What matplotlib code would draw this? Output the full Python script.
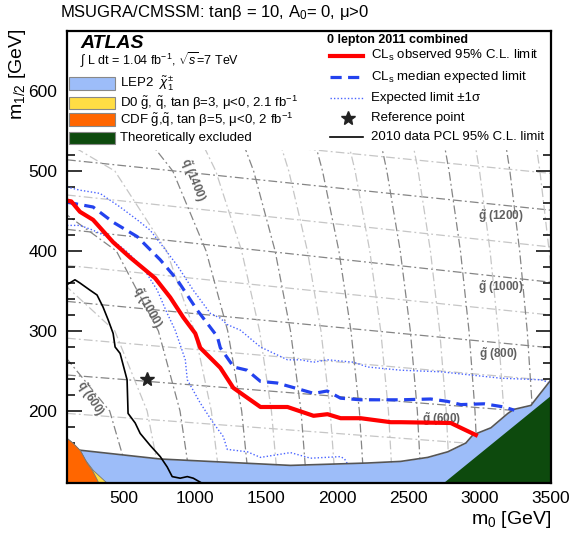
import numpy as np
import matplotlib
matplotlib.use('Agg')
import matplotlib.pyplot as plt
from matplotlib.patches import Rectangle
from matplotlib.ticker import MultipleLocator

plt.rcParams['font.family'] = ['Liberation Sans', 'DejaVu Sans']
plt.rcParams['mathtext.fontset'] = 'custom'
plt.rcParams['mathtext.rm'] = 'Liberation Sans'
plt.rcParams['mathtext.it'] = 'Liberation Sans:italic'
plt.rcParams['mathtext.bf'] = 'Liberation Sans:bold'

nan = np.nan

# 0 lepton 2011, CLs observed limit
obs_m0 = [100, 130, 191, 283, 424, 543, 719, 825, 917, 1001, 1036, 1177, 1268, 1339,
          1459, 1649, 1832, 1930, 2022, 2162, 2374, 2444, 2796, 2866, 2972]
obs_m12 = [463, 462, 449, 439, 411, 392, 366, 342, 317, 297, 279, 254, 229, 220,
           205, 205, 194, 196, 191, 191, 186, 186, 185, 179, 170]

# median expected
exp_m0 = [100, 283, 424, 593, 755, 874, 1015, 1156, 1177, 1271, 1365, 1459, 1576,
          1717, 1834, 1928, 2022, 2162, 2444, 2655, 2773, 2866, 3030, 3171, 3242]
exp_m12 = [461, 455, 436, 418, 389, 364, 326, 293, 279, 255, 251, 237, 235,
           228, 222, 225, 216, 214, 214, 215, 212, 208, 209, 205, 201]

# expected +-1 sigma
up_m0 = [100, 191, 332, 473, 593, 684, 776, 874, 987, 1107, 1177, 1226, 1318, 1459,
         1649, 1740, 1832, 1930, 2113, 2212, 2444, 2725, 3148, 3430, 3480]
up_m12 = [480, 476, 472, 455, 439, 426, 405, 382, 351, 322, 316, 308, 301, 280,
          264, 264, 261, 264, 261, 255, 251, 249, 241, 239, 236]
dn_m0 = [100, 191, 283, 403, 522, 635, 734, 804, 860, 931, 945, 1036, 1128, 1198,
         1226, 1367, 1459, 1670, 1811, 2022, 2050, 2100]
dn_m12 = [432, 432, 426, 416, 399, 379, 351, 322, 301, 264, 239, 210, 185, 168,
          152, 149, 142, 148, 141, 143, 140, 125]

# 2010 PCL limit
pcl_m0 = [100, 156, 191, 262, 311, 353, 389, 424, 438, 473, 522, 529, 579, 614,
          684, 755, 804, 839, 895, 945, 987, 1036]
pcl_m12 = [358, 364, 360, 351, 345, 330, 314, 297, 280, 272, 239, 197, 185, 172,
           157, 143, 130, 118, 116, 118, 116, 111]

ref_m0, ref_m12 = 660, 240

# excluded regions (upper edges)
lep_m0 = [100, 191, 755, 1670, 2212, 2444, 2634, 2775, 2902, 2951, 3078, 3197,
          3239, 3359, 3416, 3500]
lep_m12 = [155, 151, 140, 132, 135, 137, 142, 149, 160, 170, 179, 197,
           202, 207, 220, 239]
d0_m0 = [100, 135, 191, 227, 283, 381]
d0_m12 = [166, 161, 151, 139, 126, 110]
cdf_m0 = [100, 135, 191, 240, 276, 311, 320]
cdf_m12 = [166, 161, 151, 135, 126, 114, 110]
theo_m0 = [2740, 3500]
theo_m12 = [110, 220]

# gluino mass contours (m1/2 at m0 = 100 and 3500)
gluino_mass = [500, 600, 700, 800, 900, 1000, 1100, 1200, 1300, 1400, 1500]
gluino_left = [197, 245, 291, 337, 382, 427, 470, 514, 557, 600, 643]
gluino_right = [152, 197, 238, 279, 320, 361, 405, 451, 497, 543, 589]

# squark mass contours (m0 at fixed m1/2 levels)
squark_levels = [110, 200, 300, 400, 500, 600, 680]
squark_mass = [600, 800, 1000, 1200, 1400, 1600, 1800, 2000, 2200, 2400, 2600,
               2800, 3000, 3200, 3400, 3600]
squark_m0 = [
    [547, 400, -61, nan, nan, nan, nan],
    [761, 663, 436, -175, nan, nan, nan],
    [969, 894, 742, 447, -324, nan, nan],
    [1175, 1114, 995, 800, 436, -524, nan],
    [1378, 1327, 1229, 1077, 843, 400, -600],
    [1581, 1536, 1453, 1327, 1145, 872, 498],
    [1783, 1744, 1670, 1562, 1411, 1200, 963],
    [1985, 1949, 1884, 1789, 1658, 1483, 1299],
    [2186, 2154, 2095, 2010, 1895, 1744, 1590],
    [2387, 2358, 2304, 2227, 2124, 1990, 1857],
    [2588, 2561, 2512, 2441, 2347, 2227, 2109],
    [2789, 2764, 2718, 2653, 2567, 2458, 2351],
    [2990, 2966, 2924, 2864, 2784, 2683, 2586],
    [3191, 3169, 3129, 3072, 2998, 2905, 2816],
    [3391, 3370, 3333, 3280, 3211, 3124, 3041],
    [3592, 3572, 3537, 3487, 3422, 3341, 3263],
]

fig = plt.figure(figsize=(5.7, 5.35), dpi=100)
ax = fig.add_axes([67 / 570, 52 / 535, 484 / 570, 452 / 535])
ax.set_xlim(100, 3500)
ax.set_ylim(110, 675)

DARK = '#858585'
LIGHT = '#c6c6c6'
DASHDOT = (0, (7, 2.5, 1.5, 2.5))

for i, m in enumerate(gluino_mass):
    col = DARK if m % 200 == 0 else LIGHT
    ax.plot([100, 3500], [gluino_left[i], gluino_right[i]], color=col, lw=0.9,
            linestyle=DASHDOT, zorder=1)
for i, m in enumerate(squark_mass):
    col = DARK if m % 400 == 200 else LIGHT
    ax.plot(squark_m0[i], squark_levels, color=col, lw=0.9, linestyle=DASHDOT,
            zorder=1)

grey_txt = '#606060'
ax.text(3148, 444, r'$\mathbf{\tilde{g}}$ (1200)', color=grey_txt, fontsize=8.5,
        fontweight='bold', ha='center', va='center', zorder=1.5)
ax.text(3148, 355, r'$\mathbf{\tilde{g}}$ (1000)', color=grey_txt, fontsize=8.5,
        fontweight='bold', ha='center', va='center', zorder=1.5)
ax.text(3130, 271, r'$\mathbf{\tilde{g}}$ (800)', color=grey_txt, fontsize=8.5,
        fontweight='bold', ha='center', va='center', zorder=1.5)
ax.text(2733, 190, r'$\mathbf{\tilde{g}}$ (600)', color=grey_txt, fontsize=8.5,
        fontweight='bold', ha='center', va='center', zorder=1.5)
ax.text(987, 489, r'$\mathbf{\tilde{q}}$ (1400)', color=grey_txt, fontsize=8.5,
        fontweight='bold', ha='center', va='center', rotation=-68, zorder=1.5)
ax.text(663, 329, r'$\mathbf{\tilde{q}}$ (1000)', color=grey_txt, fontsize=8.5,
        fontweight='bold', ha='center', va='center', rotation=-60, zorder=1.5)
ax.text(262, 216, r'$\mathbf{\tilde{q}}$ (600)', color=grey_txt, fontsize=8.5,
        fontweight='bold', ha='center', va='center', rotation=-57, zorder=1.5)

LEP_C = '#9dbdf9'
D0_C = '#ffdd44'
CDF_C = '#ff6600'
THEO_C = '#0d4a0d'

ax.plot(dn_m0, dn_m12, color='#4a64ff', lw=1.0, linestyle=(0, (1, 1.5)), zorder=1.9)
ax.fill_between(lep_m0, lep_m12, 110, color=LEP_C, lw=0, zorder=2)
ax.plot(lep_m0, lep_m12, color='#555555', lw=1.2, zorder=2.1)
ax.fill_between(d0_m0, d0_m12, 110, facecolor=D0_C, edgecolor='#777777', lw=0.6,
                zorder=2.2)
ax.fill_between(cdf_m0, cdf_m12, 110, facecolor=CDF_C, edgecolor='#777777', lw=0.6,
                zorder=2.3)
ax.fill_between(theo_m0, theo_m12, 110, color=THEO_C, lw=0, zorder=2.4)

ax.plot(up_m0, up_m12, color='#4a64ff', lw=1.0, linestyle=(0, (1, 1.5)), zorder=3)
ax.plot(exp_m0, exp_m12, color='#2342ee', lw=2.3, linestyle=(0, (3.5, 2)), zorder=3.1)
ax.plot(obs_m0, obs_m12, color='#ff0000', lw=3, zorder=3.2, solid_joinstyle='round')
ax.plot(pcl_m0, pcl_m12, color='black', lw=1.2, zorder=3.3)
ax.plot(ref_m0, ref_m12, marker='*', ms=10, color='#222222', zorder=3.4)

# legend box
ax.add_patch(Rectangle((0, 0.737), 1, 0.263, transform=ax.transAxes,
                       facecolor='white', edgecolor='none', zorder=4))
T = ax.transAxes
ax.text(0.027, 0.973, 'ATLAS', transform=T, fontsize=14, fontweight='bold',
        style='italic', va='center', ha='left', zorder=5)
ax.text(0.027, 0.936, r'$\int$ L dt = 1.04 fb$^{-1}$, $\sqrt{s}$=7 TeV', transform=T,
        fontsize=9, va='center', ha='left', zorder=5)
left_items = [
    (LEP_C, r'LEP2  $\tilde{\chi}^{\pm}_{1}$'),
    (D0_C, r'D0 $\tilde{\mathrm{g}}$, $\tilde{\mathrm{q}}$, tan β=3, μ<0, 2.1 fb$^{-1}$'),
    (CDF_C, r'CDF $\tilde{\mathrm{g}}$,$\tilde{\mathrm{q}}$, tan β=5, μ<0, 2 fb$^{-1}$'),
    (THEO_C, 'Theoretically excluded'),
]
left_y = [0.884, 0.841, 0.804, 0.763]
for (col, lab), fy in zip(left_items, left_y):
    ax.add_patch(Rectangle((0.004, fy - 0.014), 0.095, 0.028, transform=T,
                           facecolor=col, edgecolor='#888888', lw=0.8, zorder=5))
    ax.text(0.110, fy, lab, transform=T, fontsize=9.5, va='center', ha='left',
            zorder=5)

ax.text(0.537, 0.979, '0 lepton 2011 combined', transform=T, fontsize=9,
        fontweight='bold', va='center', ha='left', zorder=5)
ax.plot([0.543, 0.612], [0.945, 0.945], transform=T, color='#ff0000', lw=3,
        zorder=5)
ax.plot([0.543, 0.612], [0.898, 0.898], transform=T, color='#2342ee', lw=2.3,
        linestyle=(0, (3.5, 2)), zorder=5)
ax.plot([0.543, 0.612], [0.852, 0.852], transform=T, color='#4a64ff', lw=1.0,
        linestyle=(0, (1, 1.5)), zorder=5)
ax.plot([0.581], [0.808], transform=T, marker='*', ms=10, color='#222222',
        zorder=5)
ax.plot([0.543, 0.612], [0.765, 0.765], transform=T, color='black', lw=1.2,
        zorder=5)
right_labels = [r'CL$_\mathrm{s}$ observed 95% C.L. limit',
                r'CL$_\mathrm{s}$ median expected limit',
                'Expected limit ±1σ', 'Reference point',
                '2010 data PCL 95% C.L. limit']
right_y = [0.945, 0.898, 0.852, 0.808, 0.765]
for lab, fy in zip(right_labels, right_y):
    ax.text(0.628, fy, lab, transform=T, fontsize=9.5, va='center', ha='left',
            zorder=5)

for s in ax.spines.values():
    s.set_linewidth(1.6)
    s.set_zorder(10)

ax.xaxis.set_major_locator(MultipleLocator(500))
ax.xaxis.set_minor_locator(MultipleLocator(100))
ax.yaxis.set_major_locator(MultipleLocator(100))
ax.yaxis.set_minor_locator(MultipleLocator(20))
ax.tick_params(which='both', direction='in', top=False, right=True, width=1.1,
               labelsize=12.5)
ax.tick_params(which='major', length=10.5)
ax.tick_params(which='minor', length=5.5)
ax.tick_params(axis='x', pad=6)
ax.tick_params(axis='y', pad=7)

fig.text(60 / 570, 1 - 13 / 535, 'MSUGRA/CMSSM: tanβ = 10, A$_0$= 0, μ>0',
         fontsize=12, ha='left', va='center')
fig.text(551 / 570, 1 - 519 / 535, r'm$_0$ [GeV]', fontsize=14, ha='right',
         va='center')
fig.text(18 / 570, 1 - 28 / 535, r'm$_{1/2}$ [GeV]', fontsize=14, ha='center',
         va='top', rotation=90)

fig.savefig('out.png', dpi=100)
